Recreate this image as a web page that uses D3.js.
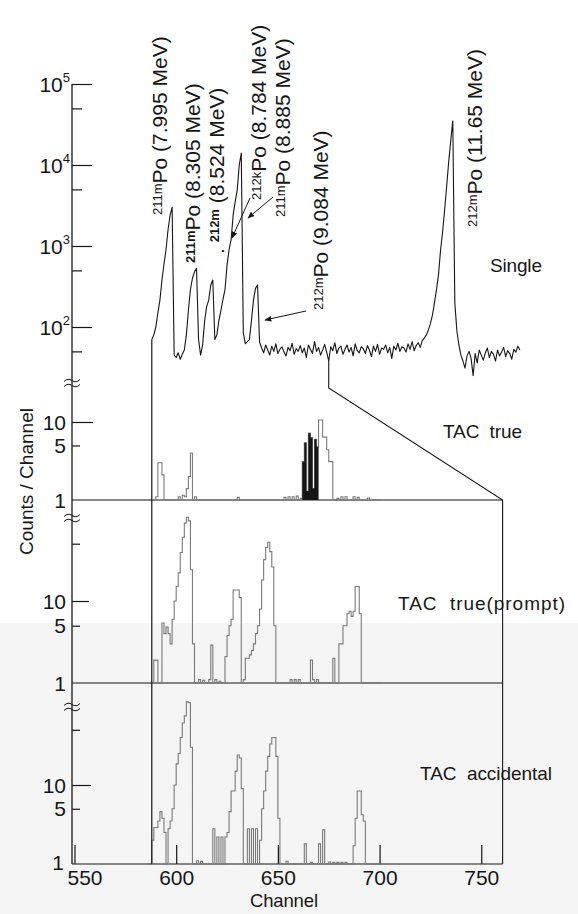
<!DOCTYPE html>
<html><head><meta charset="utf-8">
<script src="https://cdn.jsdelivr.net/npm/d3@7"></script>
<style>
html,body{margin:0;padding:0;background:#fff;}
svg{display:block;font-family:"Liberation Sans",Arial,sans-serif;}
</style></head><body>
<svg id="chart" width="578" height="914"></svg>
<script>
// ---- data -------------------------------------------------------------
// Singles spectrum, counts per channel starting at channel 588
const singleStart = 588;
const singleCounts = [
  70, 80, 100, 150, 215, 380, 600, 900, 1600, 2400,
  3000, 45, 42, 48, 40, 46, 52, 80, 160, 290,
  400, 480, 530, 70, 45, 60, 120, 180, 215, 330,
  380, 70, 80, 120, 160, 220, 290, 580, 900, 1200,
  2400, 3500, 4900, 10000, 14000, 84, 62, 66, 70, 120,
  215, 300, 330, 65, 55, 48, 60, 52, 45, 58,
  50, 62, 47, 53, 57, 49, 44, 56, 51, 63,
  46, 54, 50, 59, 48, 55, 42, 60, 53, 47,
  66, 50, 56, 45, 52, 61, 49, 38, 57, 51,
  64, 47, 55, 58, 46, 53, 60, 49, 56, 44,
  62, 51, 48, 57, 54, 47, 59, 52, 43, 58,
  50, 61, 46, 55, 53, 60, 48, 56, 41, 58,
  52, 63, 50, 57, 55, 49, 62, 53, 66, 51,
  59, 64, 56, 68, 73, 80, 92, 110, 140, 200,
  290, 450, 900, 1500, 2800, 5500, 11000, 20000, 35000, 200,
  90, 60, 45, 38, 31, 44, 50, 41, 25, 47,
  36, 52, 45, 39, 48, 55, 42, 50, 46, 38,
  52, 44, 49, 56, 43, 51, 47, 40, 53, 49,
  58, 52
];

// TAC-gated spectra, counts per channel starting at channel 586
const tacStart = 586;
const tacTrue = [
  1, 1, 1, 1, 1.1, 3, 3, 2.1, 1, 1,
  1, 1, 1, 1, 1, 1.1, 1, 1.15, 1.1, 1.4,
  2, 4, 1, 1.1, 1, 1, 1, 1, 1, 1,
  1, 1, 1, 1, 1, 1, 1, 1, 1, 1,
  1, 1, 1, 1, 1.08, 1, 1, 1, 1, 1,
  1, 1, 1, 1, 1, 1, 1, 1, 1, 1,
  1, 1, 1, 1, 1, 1, 1, 1.08, 1, 1.1,
  1, 1.1, 1, 1.12, 1, 1.05, 3.1, 5.4, 1.3, 7.2,
  6.3, 1.4, 6.0, 4.8, 10.6, 10.6, 6.4, 6.4, 4.4, 3.1,
  3.1, 1, 1, 1.05, 1, 1.1, 1, 1.1, 1, 1,
  1, 1.1, 1, 1.08, 1, 1, 1, 1, 1.06, 1,
  1, 1, 1, 1, 1
];
const tacTrueFilled = [662, 670];   // channel range drawn as solid bars

const tacPrompt = [
  1, 1, 1, 1.9, 1.9, 1, 1, 5.4, 4, 4.8,
  4, 3, 6, 10, 15, 22, 39, 60, 89, 105,
  95, 24, 3, 1, 1, 1.1, 1, 1.08, 1, 1,
  1.1, 2.9, 1, 1.1, 1, 1.05, 1, 1, 2.1, 3.8,
  5, 6, 13.6, 13.6, 13.6, 11, 1, 1.1, 2, 2,
  2.2, 2.5, 3, 4, 5, 8, 18, 32, 45, 52,
  40, 26, 5, 1, 1, 1, 1, 1, 1, 1,
  1.1, 1, 1.1, 1, 1.1, 1, 1, 1, 1, 1,
  1.9, 1.1, 1, 1.1, 1, 1, 1, 1, 1, 1,
  1, 2, 1, 1, 3, 3, 5, 5, 7, 7.5,
  6.5, 7.5, 15, 15, 7, 1, 1, 1, 1, 1,
  1, 1, 1, 1, 1
];

const tacAccidental = [
  1, 1, 2, 2.9, 2.9, 3.5, 4.6, 3.8, 2.5, 1,
  2.8, 3.5, 5, 10, 18.5, 25, 40, 61, 75, 113,
  110, 30, 1, 1, 1.1, 1, 1.08, 1, 1, 1,
  1, 1, 2.8, 1, 2.2, 1, 2.2, 1, 2.2, 2.5,
  4.6, 8.4, 8.4, 15, 24, 22, 9, 1, 1, 2.8,
  1, 2.8, 1, 2.8, 1, 2, 5, 8.4, 15, 23,
  33, 40, 40, 23, 3.8, 1, 1, 1, 1.08, 1,
  1, 1, 1, 1, 1, 1, 1, 1.8, 1, 1,
  1.05, 1, 1, 1, 1.8, 1, 2.7, 1, 1, 1.06,
  1, 1.05, 1, 1.05, 1, 1.05, 1, 1.05, 1, 1,
  1, 1.7, 3.8, 8.4, 8.4, 4.2, 3.5, 1, 1, 1,
  1, 1, 1, 1, 1
];

const channelTicks = [550, 600, 650, 700, 750];
const singleMajor = [1e2, 1e3, 1e4, 1e5];
const singleMinor = [5e1, 5e2, 5e3, 5e4];
const windowLo = 588, windowHi = 760.5, tapChannel = 675;

const peakLabels = [
  {sup: "211m", text: "Po (7.995 MeV)", bx: 167, by: 215},
  {sup: "211m", text: "Po (8.305 MeV)", bx: 200, by: 263, bold: true},
  {pre: ". ", sup: "212m", text: " (8.524 MeV)", bx: 224, by: 254, bold: true},
  {sup: "212k", text: "Po (8.784 MeV)", bx: 266, by: 200},
  {sup: "211m", text: "Po (8.885 MeV)", bx: 290, by: 217},
  {sup: "212m", text: "Po (9.084 MeV)", bx: 328, by: 310},
  {sup: "212m", text: "Po (11.65 MeV)", bx: 482, by: 227}
];

// ---- scales -----------------------------------------------------------
const x = d3.scaleLinear().domain([550, 760]).range([74.5, 501.6]);
const ySingle = d3.scaleLog().domain([1e2, 1e5]).range([327, 84]);
const yTrue = d3.scaleLog().domain([1, 10]).range([500, 422]);
const yPrompt = d3.scaleLog().domain([1, 10]).range([683, 601]);
const yAcc = d3.scaleLog().domain([1, 10]).range([864, 785]);

const axisX = 72, axisTop = 84, axisBottom = 864;
const ink = "#161616", trace = "#7a7a7a";

const svg = d3.select("#chart");

// faint band of the lower panels
svg.append("rect").attr("x", 0).attr("y", 623).attr("width", 578).attr("height", 291)
  .attr("fill", "#f5f5f5");

const defs = svg.append("defs");
defs.append("marker").attr("id", "arrow").attr("viewBox", "0 0 10 10")
  .attr("refX", 9).attr("refY", 5).attr("markerWidth", 7).attr("markerHeight", 7)
  .attr("orient", "auto")
  .append("path").attr("d", "M0,1 L10,5 L0,9 Z").attr("fill", ink);

// ---- vertical axis with breaks ----------------------------------------
svg.append("line").attr("x1", axisX).attr("x2", axisX).attr("y1", axisTop).attr("y2", axisBottom)
  .attr("stroke", ink).attr("stroke-width", 1.3);

function ticks(scale, values, size) {
  const g = svg.append("g").attr("transform", `translate(${axisX},0)`)
    .call(d3.axisRight(scale).tickValues(values).tickSize(size).tickFormat(""));
  g.select(".domain").remove();
  g.selectAll("line").attr("stroke", ink).attr("stroke-width", 1.2);
}
ticks(ySingle, singleMajor, 20);
ticks(ySingle, singleMinor, 10);
ticks(yTrue, [10], 21);
ticks(yTrue, [5], 8);
ticks(yPrompt, [10], 17);
ticks(yPrompt, [5, 50], 8);
ticks(yAcc, [10], 19);
ticks(yAcc, [5, 50], 8);

const numFont = 21;
singleMajor.forEach(v => {
  const t = svg.append("text").attr("x", 70).attr("y", ySingle(v)).attr("dy", "0.36em")
    .attr("text-anchor", "end").attr("fill", ink).attr("font-size", numFont);
  t.append("tspan").text("10");
  t.append("tspan").attr("font-size", 13).attr("dy", "-0.75em").text(Math.round(Math.log10(v)));
});
[[yTrue, [10, 5, 1]], [yPrompt, [10, 5, 1]], [yAcc, [10, 5]]].forEach(([s, vals]) => {
  vals.forEach(v => {
    svg.append("text").attr("x", 66).attr("y", s(v)).attr("dy", "0.36em")
      .attr("text-anchor", "end").attr("fill", ink).attr("font-size", numFont).text(v);
  });
});
// lowest label sits just above the channel numbers
svg.append("text").attr("x", 64).attr("y", yAcc(1) - 2).attr("dy", "0.36em")
  .attr("text-anchor", "end").attr("fill", ink).attr("font-size", numFont).text(1);

// axis break marks
[383, 518, 707].forEach(yb => {
  [-2.5, 2.5].forEach(o => {
    svg.append("path")
      .attr("d", `M${axisX - 8},${yb + o + 1} q4,-4 8,-1 t8,-1`)
      .attr("fill", "none").attr("stroke", ink).attr("stroke-width", 1);
  });
});

// ---- channel axis -------------------------------------------------------
const gx = svg.append("g").attr("transform", `translate(0,${axisBottom})`)
  .call(d3.axisBottom(x).tickValues(channelTicks).tickSizeInner(-19).tickSizeOuter(0).tickPadding(6));
gx.select(".domain").remove();
gx.selectAll("line").attr("stroke", ink).attr("stroke-width", 1.2);
gx.selectAll("text").attr("font-size", numFont).attr("fill", ink)
  .attr("font-family", '"Liberation Sans",Arial,sans-serif')
  .attr("dx", d => d === channelTicks[0] ? 10 : 0);

// baselines of the TAC panels (count = 1)
[yTrue, yPrompt, yAcc].forEach(s => {
  svg.append("line").attr("x1", axisX).attr("x2", x(windowHi))
    .attr("y1", s(1)).attr("y2", s(1)).attr("stroke", ink).attr("stroke-width", 1.2);
});

// ---- TAC histograms ---------------------------------------------------
function histo(values, scale, color) {
  const pts = values.map((v, i) => ({c: tacStart + i, v}));
  pts.push({c: tacStart + values.length, v: values[values.length - 1]});
  svg.append("path").datum(pts)
    .attr("d", d3.line().curve(d3.curveStepAfter).x(d => x(d.c)).y(d => scale(d.v)))
    .attr("fill", "none").attr("stroke", color).attr("stroke-width", 1.1);
}
histo(tacTrue, yTrue, trace);
histo(tacPrompt, yPrompt, trace);
histo(tacAccidental, yAcc, trace);

// solid bars in the TAC true spectrum
const filled = tacTrue.map((v, i) => ({c: tacStart + i, v}))
  .filter(d => d.c >= tacTrueFilled[0] && d.c <= tacTrueFilled[1]);
svg.append("path").datum(filled)
  .attr("d", d3.area().curve(d3.curveStepAfter).x(d => x(d.c)).y0(yTrue(1)).y1(d => yTrue(d.v)))
  .attr("fill", ink);

// ---- singles spectrum ---------------------------------------------------
const single = singleCounts.map((v, i) => ({c: singleStart + i, v}));
svg.append("path").datum(single)
  .attr("d", d3.line().x(d => x(d.c)).y(d => ySingle(d.v)))
  .attr("fill", "none").attr("stroke", ink).attr("stroke-width", 1.1)
  .attr("stroke-linejoin", "round");

// window lines linking the singles spectrum to the TAC spectra
const tapValue = singleCounts[tapChannel - singleStart];
svg.append("path")
  .attr("d", `M${x(windowLo)},${ySingle(singleCounts[0])} V${axisBottom}`)
  .attr("fill", "none").attr("stroke", ink).attr("stroke-width", 1.2);
svg.append("path")
  .attr("d", `M${x(tapChannel)},${ySingle(tapValue)} V388 L${x(windowHi)},${yTrue(1)} V${axisBottom}`)
  .attr("fill", "none").attr("stroke", ink).attr("stroke-width", 1.1);

// ---- peak labels --------------------------------------------------------
peakLabels.forEach(l => {
  const t = svg.append("text").attr("transform", `translate(${l.bx},${l.by}) rotate(-90)`)
    .attr("fill", ink).attr("font-size", 21);
  if (l.pre) t.append("tspan").text(l.pre);
  t.append("tspan").attr("font-size", 13).attr("baseline-shift", "35%")
    .attr("font-weight", l.bold ? "bold" : null).text(l.sup);
  t.append("tspan").text(l.text);
});

// arrows from labels to peaks
[[250, 198, 232, 238], [273, 197, 248, 218], [306, 311, 265, 320]].forEach(([x1, y1, x2, y2]) => {
  svg.append("line").attr("x1", x1).attr("y1", y1).attr("x2", x2).attr("y2", y2)
    .attr("stroke", ink).attr("stroke-width", 1).attr("marker-end", "url(#arrow)");
});

// ---- panel names and axis titles ---------------------------------------
const names = [
  {t: "Single", x: 490, y: 272, len: 52},
  {t: "TAC  true", x: 443, y: 438, len: 79},
  {t: "TAC  true(prompt)", x: 398, y: 610, len: 167},
  {t: "TAC  accidental", x: 420, y: 780, len: 132}
];
names.forEach(n => {
  svg.append("text").attr("x", n.x).attr("y", n.y).attr("font-size", 19).attr("fill", ink)
    .attr("textLength", n.len).attr("lengthAdjust", "spacing").attr("xml:space", "preserve")
    .style("white-space", "pre").text(n.t);
});

svg.append("text").attr("transform", "translate(33,555) rotate(-90)")
  .attr("font-size", 19).attr("fill", ink).attr("textLength", 147).attr("lengthAdjust", "spacing")
  .text("Counts / Channel");
svg.append("text").attr("x", 250).attr("y", 907).attr("font-size", 18.5).attr("fill", ink)
  .attr("textLength", 68).attr("lengthAdjust", "spacing").text("Channel");
</script></body></html>
